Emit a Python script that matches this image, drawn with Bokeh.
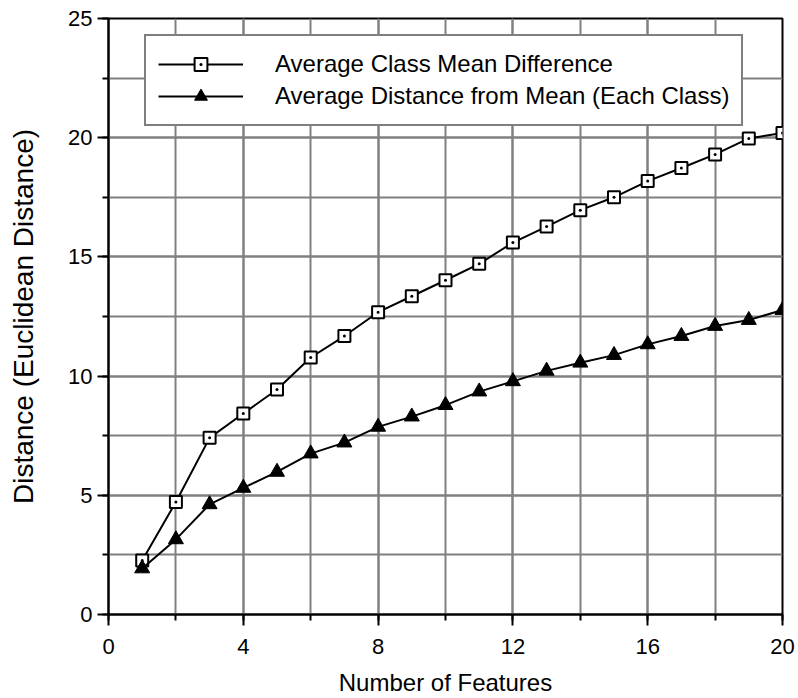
from bokeh.plotting import figure
from bokeh.models import SingleIntervalTicker, Range1d, Legend, LegendItem
from bokeh.embed import file_html
from bokeh.resources import INLINE

features = list(range(1, 21))
class_mean_diff = [2.27, 4.72, 7.41, 8.43, 9.44, 10.78, 11.68, 12.68, 13.35, 14.02,
                   14.71, 15.6, 16.27, 16.96, 17.5, 18.18, 18.73, 19.3, 19.97, 20.2]
dist_from_mean = [1.93, 3.15, 4.62, 5.31, 5.98, 6.75, 7.21, 7.87, 8.3, 8.78,
                  9.35, 9.78, 10.22, 10.56, 10.88, 11.33, 11.68, 12.1, 12.35, 12.77]
label_a = "Average Class Mean Difference"
label_b = "Average Distance from Mean (Each Class)"

FONT = "Liberation Sans"
GRID = "#808080"

p = figure(width=798, height=698, output_backend="svg", toolbar_location=None,
           x_range=Range1d(0, 20), y_range=Range1d(0, 25),
           min_border_left=108, min_border_right=16, min_border_top=18, min_border_bottom=84)
p.background_fill_color = "white"
p.border_fill_color = "white"
p.outline_line_color = "black"
p.outline_line_width = 2

p.xaxis.ticker = SingleIntervalTicker(interval=4, num_minor_ticks=2)
p.yaxis.ticker = SingleIntervalTicker(interval=5, num_minor_ticks=2)

for g in (p.xgrid, p.ygrid):
    g.grid_line_color = GRID
    g.grid_line_width = 2
    g.minor_grid_line_color = GRID
    g.minor_grid_line_width = 2

for ax in (p.xaxis, p.yaxis):
    ax.axis_line_color = "black"
    ax.axis_line_width = 2
    ax.major_tick_line_color = "black"
    ax.major_tick_line_width = 2
    ax.minor_tick_line_color = "black"
    ax.minor_tick_line_width = 2
    ax.major_tick_in = 0
    ax.major_tick_out = 11
    ax.minor_tick_in = 0
    ax.minor_tick_out = 6
    ax.major_label_text_font = FONT
    ax.major_label_text_font_size = "22px"
    ax.major_label_text_color = "black"
    ax.axis_label_text_font = FONT
    ax.axis_label_text_font_style = "normal"
    ax.axis_label_text_color = "black"

p.xaxis.axis_label = "Number of Features"
p.yaxis.axis_label = "Distance (Euclidean Distance)"
p.xaxis.axis_label_text_font_size = "24px"
p.yaxis.axis_label_text_font_size = "28px"
p.xaxis.major_label_standoff = 13
p.yaxis.major_label_standoff = 5
p.xaxis.axis_label_standoff = 12
p.yaxis.axis_label_standoff = 26

la = p.line(features, class_mean_diff, line_color="black", line_width=2)
sa = p.scatter(features, class_mean_diff, marker="square_dot", size=12,
               fill_color="white", line_color="black", line_width=2)
lb = p.line(features, dist_from_mean, line_color="black", line_width=2)
sb = p.scatter(features, dist_from_mean, marker="triangle", size=15,
               fill_color="black", line_color="black", line_width=1)

legend = Legend(items=[LegendItem(label=label_a, renderers=[la, sa]),
                       LegendItem(label=label_b, renderers=[lb, sb])],
                location=(36, 488))
legend.label_text_font = FONT
legend.label_text_font_size = "24px"
legend.label_text_color = "black"
legend.glyph_width = 85
legend.glyph_height = 32
legend.label_height = 24
legend.label_standoff = 32
legend.spacing = -5
legend.padding = 12
legend.margin = 0
legend.border_line_color = "black"
legend.border_line_width = 2
legend.background_fill_color = "white"
legend.background_fill_alpha = 1
p.add_layout(legend, "center")

open("out.html", "w").write(file_html(p, INLINE))
